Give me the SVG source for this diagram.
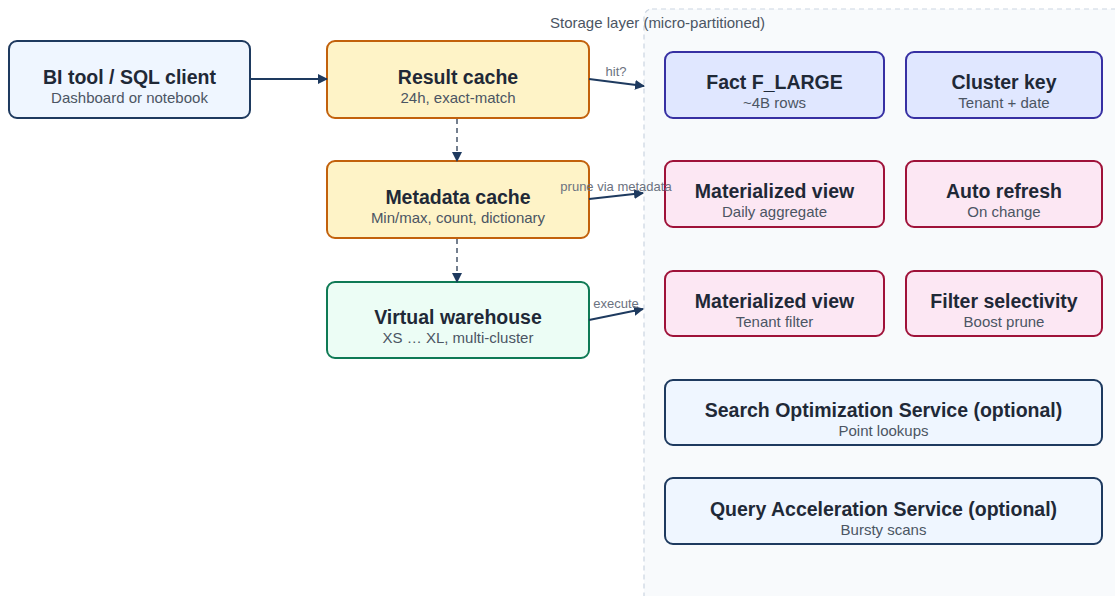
<svg xmlns="http://www.w3.org/2000/svg" width="1115" height="596" viewBox="0 0 1115 596">
  <defs>
    <marker id="arrow" viewBox="0 0 10 10" refX="9" refY="5" markerWidth="10" markerHeight="10" markerUnits="userSpaceOnUse" orient="auto">
      <path d="M0,0 L10,5 L0,10 z" fill="#1e3a5f"/>
    </marker>
    <style>
      .title { font-family: "Liberation Sans", Arial, sans-serif; font-size: 19.5px; font-weight: bold; fill: #1f2937; text-anchor: middle; }
      .sub { font-family: "Liberation Sans", Arial, sans-serif; font-size: 15px; fill: #4b5563; text-anchor: middle; }
      .elabel { font-family: "Liberation Sans", Arial, sans-serif; font-size: 13px; fill: #6b7280; text-anchor: middle; }
      .box { stroke-width: 2; }
      .client { fill: #eff6ff; stroke: #1e3a5f; }
      .cache { fill: #fef3c7; stroke: #c2610c; }
      .compute { fill: #ecfdf5; stroke: #0f7a55; }
      .table { fill: #e0e7ff; stroke: #3730a3; }
      .view { fill: #fce7f3; stroke: #9f1239; }
      .service { fill: #eff6ff; stroke: #1e3a5f; }
      .edge { fill: none; stroke: #1e3a5f; stroke-width: 2; }
      .dashed { stroke-dasharray: 5 4; stroke-width: 1.5; stroke: #475569; }
    </style>
  </defs>
  <rect width="1115" height="596" fill="#ffffff"/>

  <!-- Storage layer container -->
  <g id="storage-layer">
    <rect x="644" y="9" width="490" height="610" rx="8" fill="#f8fafc" stroke="#cbd5e1" stroke-width="1.2" stroke-dasharray="5 4"/>
    <text x="550" y="28" font-family="'Liberation Sans', Arial, sans-serif" font-size="15" fill="#4b5563">Storage layer (micro-partitioned)</text>
  </g>

  <g id="bi-tool">
    <rect class="box client" x="9" y="41" width="241" height="77" rx="8"/>
    <text class="title" x="129.5" y="84">BI tool / SQL client</text>
    <text class="sub" x="129.5" y="103">Dashboard or notebook</text>
  </g>
  <g id="result-cache">
    <rect class="box cache" x="327" y="41" width="262" height="77" rx="8"/>
    <text class="title" x="458" y="84">Result cache</text>
    <text class="sub" x="458" y="103">24h, exact-match</text>
  </g>
  <g id="metadata-cache">
    <rect class="box cache" x="327" y="161" width="262" height="77" rx="8"/>
    <text class="title" x="458" y="204">Metadata cache</text>
    <text class="sub" x="458" y="223">Min/max, count, dictionary</text>
  </g>
  <g id="virtual-warehouse">
    <rect class="box compute" x="327" y="282" width="262" height="76" rx="8"/>
    <text class="title" x="458" y="324">Virtual warehouse</text>
    <text class="sub" x="458" y="343">XS … XL, multi-cluster</text>
  </g>

  <g id="fact-table">
    <rect class="box table" x="665" y="52" width="219" height="66" rx="8"/>
    <text class="title" x="774.5" y="89">Fact F_LARGE</text>
    <text class="sub" x="774.5" y="108">~4B rows</text>
  </g>
  <g id="cluster-key">
    <rect class="box table" x="906" y="52" width="196" height="66" rx="8"/>
    <text class="title" x="1004" y="89">Cluster key</text>
    <text class="sub" x="1004" y="108">Tenant + date</text>
  </g>
  <g id="mv-daily">
    <rect class="box view" x="665" y="161" width="219" height="66" rx="8"/>
    <text class="title" x="774.5" y="198">Materialized view</text>
    <text class="sub" x="774.5" y="217">Daily aggregate</text>
  </g>
  <g id="auto-refresh">
    <rect class="box view" x="906" y="161" width="196" height="66" rx="8"/>
    <text class="title" x="1004" y="198">Auto refresh</text>
    <text class="sub" x="1004" y="217">On change</text>
  </g>
  <g id="mv-tenant">
    <rect class="box view" x="665" y="271" width="219" height="65" rx="8"/>
    <text class="title" x="774.5" y="308">Materialized view</text>
    <text class="sub" x="774.5" y="327">Tenant filter</text>
  </g>
  <g id="filter-selectivity">
    <rect class="box view" x="906" y="271" width="196" height="65" rx="8"/>
    <text class="title" x="1004" y="308">Filter selectivity</text>
    <text class="sub" x="1004" y="327">Boost prune</text>
  </g>
  <g id="search-optimization">
    <rect class="box service" x="665" y="380" width="437" height="65" rx="8"/>
    <text class="title" x="883.5" y="417">Search Optimization Service (optional)</text>
    <text class="sub" x="883.5" y="436">Point lookups</text>
  </g>
  <g id="query-acceleration">
    <rect class="box service" x="665" y="478" width="437" height="66" rx="8"/>
    <text class="title" x="883.5" y="516">Query Acceleration Service (optional)</text>
    <text class="sub" x="883.5" y="535">Bursty scans</text>
  </g>

  <!-- Connectors, drawn last so their labels sit above the boxes -->
  <g id="connectors">
    <line class="edge" x1="250" y1="79" x2="327" y2="79" marker-end="url(#arrow)"/>
    <line class="edge" x1="589" y1="79" x2="644" y2="86" marker-end="url(#arrow)"/>
    <text class="elabel" x="616" y="76">hit?</text>
    <line class="edge" x1="589" y1="199" x2="643" y2="193" marker-end="url(#arrow)"/>
    <text class="elabel" x="616" y="191">prune via metadata</text>
    <line class="edge" x1="589" y1="320" x2="643" y2="309" marker-end="url(#arrow)"/>
    <text class="elabel" x="616" y="308">execute</text>
    <line class="edge dashed" x1="457" y1="119" x2="457" y2="161" marker-end="url(#arrow)"/>
    <line class="edge dashed" x1="457" y1="239" x2="457" y2="282" marker-end="url(#arrow)"/>
  </g>
</svg>
